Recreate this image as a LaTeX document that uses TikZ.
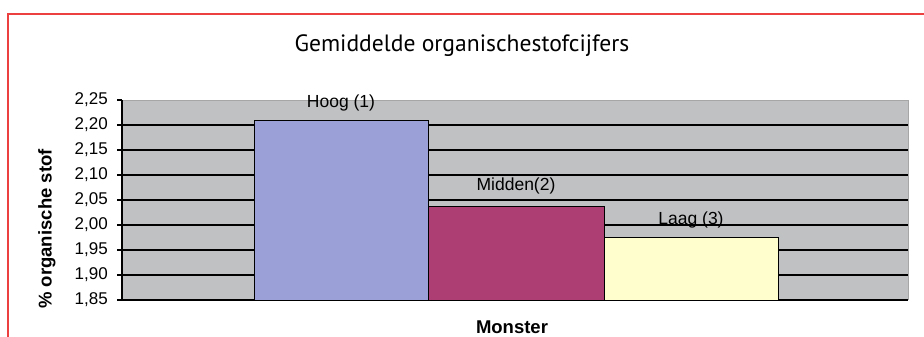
\documentclass[tikz,border=0pt]{standalone}
\usepackage{fontspec}
\setmainfont{Liberation Sans}
\newfontfamily\titlefont{PT Sans}
\definecolor{framered}{RGB}{236,64,64}
\definecolor{plotgray}{RGB}{192,193,195}
\definecolor{hoogblue}{RGB}{155,160,214}
\definecolor{middenplum}{RGB}{172,62,116}
\definecolor{laagyellow}{RGB}{255,254,204}
\begin{document}
\begin{tikzpicture}[x=1pt,y=-1pt,
    bar/.style={draw=black, line width=1pt},
    gridline/.style={black, line width=1.3pt},
    ticklabel/.style={anchor=east, inner sep=0pt, font=\fontsize{17}{17}\selectfont},
    barlabel/.style={inner sep=1pt, font=\fontsize{17.5}{17.5}\selectfont},
    axislabel/.style={inner sep=0pt, font=\fontsize{18.5}{18.5}\selectfont\bfseries}]
	\useasboundingbox (0,0) rectangle (924,337);
	\fill[white] (0,0) rectangle (924,337);
	
	% kader
	\draw[framered, line width=2pt] (924,14) -- (8,14) -- (8,337);
	
	\node (title) at (462,46) {\titlefont\fontsize{23.6}{23.6}\selectfont Gemiddelde organischestofcijfers};
	
	% plotgebied
	\fill[plotgray] (122,100) rectangle (908,300);
	\draw[gray!70, line width=1pt] (122,100) -- (908,100) -- (908,300);
	\foreach \i/\lab in {0/{2,25},1/{2,20},2/{2,15},3/{2,10},4/{2,05},5/{2,00},6/{1,95},7/{1,90},8/{1,85}} {
		\node[ticklabel] (tick\i) at (108,100+25*\i) {\lab};
		\draw[gridline] (117,100+25*\i) -- (122,100+25*\i);
	}
	\foreach \i in {1,...,8}
		\draw[gridline] (122,100+25*\i) -- (908,100+25*\i);
	\draw[gridline] (122,100) -- (122,300);
	
	% staven
	\draw[bar, fill=hoogblue] (254,300) rectangle (428,120.5);
	\draw[bar, fill=middenplum] (428,300) rectangle (604,206.5);
	\draw[bar, fill=laagyellow] (604,300) rectangle (778,237.5);
	\node[barlabel] (hoog) at (341,103) {Hoog (1)};
	\node[barlabel] (midden) at (516,186) {Midden(2)};
	\node[barlabel] (laag) at (691,220) {Laag (3)};
	
	\node[axislabel, rotate=90] (ylabel) at (47,229) {\% organische stof};
	\node[axislabel] (xlabel) at (512,327) {Monster};
\end{tikzpicture}
\end{document}
